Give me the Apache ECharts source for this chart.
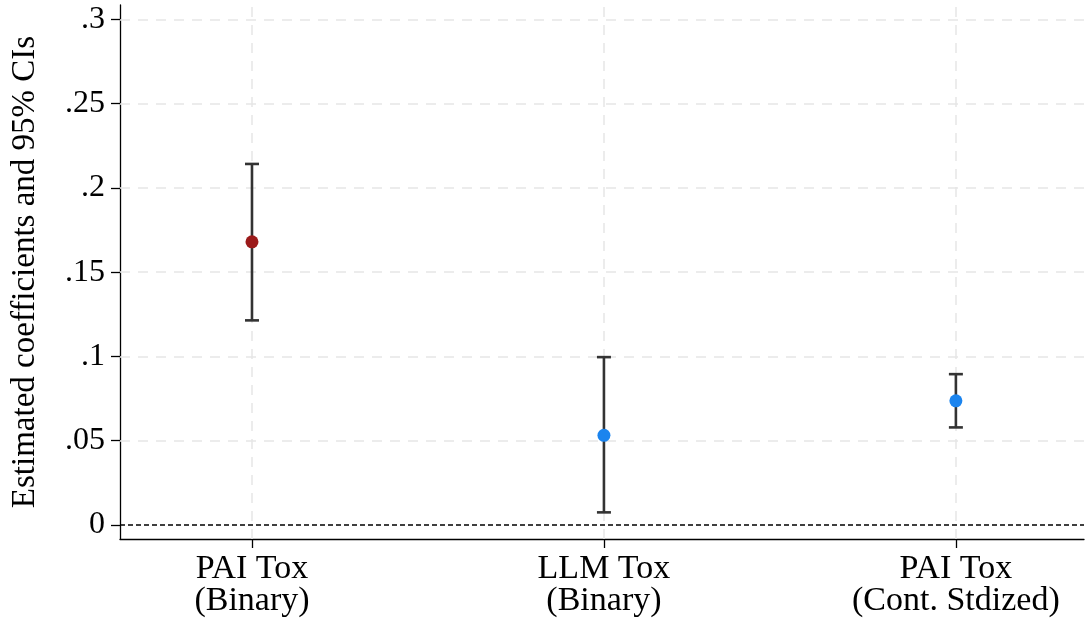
<!DOCTYPE html>
<html>
<head>
<meta charset="utf-8">
<script src="https://cdn.jsdelivr.net/npm/echarts@6/dist/echarts.min.js"></script>
<style>html,body{margin:0;padding:0;background:#fff;}#c{width:1085px;height:621px;}</style>
</head>
<body>
<div id="c"></div>
<script>
const categories = ["PAI Tox\n(Binary)", "LLM Tox\n(Binary)", "PAI Tox\n(Cont. Stdized)"];
const positions = [1, 2, 3];
const estimates = [0.168, 0.0532, 0.0737];
const ciLower = [0.1214, 0.0075, 0.0579];
const ciUpper = [0.2142, 0.0996, 0.0895];
const pointColors = ["#9b1a1a", "#1b84ee"];
const yTicks = [0, 0.05, 0.1, 0.15, 0.2, 0.25, 0.3];

const FONT = '"Liberation Serif", "Times New Roman", serif';
const chart = echarts.init(document.getElementById('c'), null, {renderer: 'canvas'});

const errData = positions.map((p, i) => [p, ciLower[i], ciUpper[i]]);
const ptData = positions.map((p, i) => ({value: [p, estimates[i]], itemStyle: {color: i === 0 ? pointColors[0] : pointColors[1], opacity: 1}}));

chart.setOption({
  animation: false,
  grid: {left: 120, right: 1, top: 5, bottom: 82, containLabel: false},
  xAxis: {
    type: 'value', min: 0.625, max: 3.364,
    axisLine: {show: true, onZero: false, lineStyle: {color: '#000', width: 1.3}},
    axisTick: {show: true, length: 9, customValues: positions, lineStyle: {color: '#000', width: 1.3}},
    axisLabel: {customValues: positions, margin: 14, fontFamily: FONT, fontSize: 34, color: '#000', lineHeight: 32,
      formatter: v => categories[Math.round(v) - 1]},
    splitLine: {show: false}
  },
  yAxis: {
    type: 'value', min: -0.0083, max: 0.3085,
    name: 'Estimated coefficients and 95% CIs', nameLocation: 'middle', nameGap: 78,
    nameTextStyle: {fontFamily: FONT, fontSize: 33, color: '#000'},
    axisLine: {show: true, onZero: false, lineStyle: {color: '#000', width: 1.3}},
    axisTick: {show: true, length: 9, customValues: yTicks, lineStyle: {color: '#000', width: 1.3}},
    axisLabel: {customValues: yTicks, margin: 15, fontFamily: FONT, fontSize: 32, color: '#000',
      formatter: v => v === 0 ? '0' : String(+v.toFixed(2)).replace(/^0\./, '.')},
    splitLine: {show: false}
  },
  series: [
    {
      type: 'scatter', data: [], z: 1, silent: true,
      markLine: {
        z: 1, symbol: 'none', silent: true, label: {show: false},
        lineStyle: {color: '#e6e6e6', width: 1.5, type: [10, 8]},
        data: yTicks.filter(v => v > 0).map(v => ({yAxis: v})).concat(positions.map(p => ({xAxis: p})))
      }
    },
    {
      type: 'scatter', data: [], z: 2, silent: true,
      markLine: {
        z: 2, symbol: 'none', silent: true, label: {show: false},
        lineStyle: {color: '#000', width: 1.5, type: [5, 3]},
        data: [{yAxis: 0}]
      }
    },
    {
      type: 'custom', z: 10,
      data: errData,
      renderItem: function (params, api) {
        const x = api.value(0);
        const lo = api.coord([x, api.value(1)]);
        const hi = api.coord([x, api.value(2)]);
        const hw = 7;
        const st = {stroke: '#333333', lineWidth: 2.6, lineDash: null, opacity: 1};
        return {type: 'group', children: [
          {type: 'line', shape: {x1: lo[0], y1: lo[1], x2: hi[0], y2: hi[1]}, style: st},
          {type: 'line', shape: {x1: lo[0] - hw, y1: lo[1], x2: lo[0] + hw, y2: lo[1]}, style: st},
          {type: 'line', shape: {x1: hi[0] - hw, y1: hi[1], x2: hi[0] + hw, y2: hi[1]}, style: st}
        ]};
      }
    },
    {
      type: 'scatter', z: 11, symbol: 'circle', symbolSize: 13,
      data: ptData
    }
  ]
});
</script>
</body>
</html>
